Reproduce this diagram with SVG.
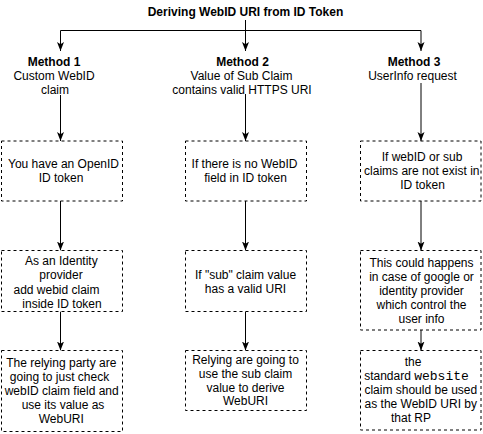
<svg xmlns="http://www.w3.org/2000/svg" width="483" height="434" viewBox="0 0 483 434">
<defs>
<style>
.t{font-family:"Liberation Sans",Arial,Helvetica,sans-serif;font-size:12px;fill:#000;text-anchor:middle}
.b{font-weight:bold}
.box{fill:#fff;stroke:#000;stroke-width:1;stroke-dasharray:3 3}
.e{fill:none;stroke:#000;stroke-width:1}
.mono{font-family:"Liberation Mono","Courier New",monospace;font-size:13px}
</style>
<marker id="arr" markerUnits="userSpaceOnUse" markerWidth="10" markerHeight="8" refX="9" refY="4" orient="auto" viewBox="0 0 10 8">
<path d="M0,0.5 L9,4 L0,7.5 L2.2,4 Z" fill="#000"/>
</marker>
</defs>
<rect width="483" height="434" fill="#fff"/>

<g id="title">
<text class="t b" x="245.5" y="16">Deriving WebID URI from ID Token</text>
</g>

<g id="method1">
<text class="t b" x="54" y="65.7">Method 1</text>
<text class="t" x="54" y="79.7">Custom WebID</text>
<text class="t" x="55" y="93.7">claim</text>
</g>
<g id="method2">
<text class="t b" x="242.5" y="65.7">Method 2</text>
<text class="t" x="241.5" y="79.7">Value of Sub Claim</text>
<text class="t" x="242" y="93.7">contains valid HTTPS URI</text>
</g>
<g id="method3">
<text class="t b" x="414" y="65.7">Method 3</text>
<text class="t" x="412.5" y="79.7">UserInfo request</text>
</g>

<g id="connectors">
<path class="e" d="M245.5,20 V51" marker-end="url(#arr)"/>
<path class="e" d="M245.5,30.5 H60.5 V51" marker-end="url(#arr)"/>
<path class="e" d="M245.5,30.5 H421 V51" marker-end="url(#arr)"/>
<path class="e" d="M60.5,95 V141" marker-end="url(#arr)"/>
<path class="e" d="M245.5,94 V141" marker-end="url(#arr)"/>
<path class="e" d="M421,83 V141" marker-end="url(#arr)"/>
<path class="e" d="M60.5,201 V250.5" marker-end="url(#arr)"/>
<path class="e" d="M245.5,201 V250.5" marker-end="url(#arr)"/>
<path class="e" d="M421,201 V250.5" marker-end="url(#arr)"/>
<path class="e" d="M60.5,311.5 V350.5" marker-end="url(#arr)"/>
<path class="e" d="M245.5,311.5 V350.5" marker-end="url(#arr)"/>
<path class="e" d="M421,330 V350.5" marker-end="url(#arr)"/>
</g>

<g id="m1-openid">
<rect class="box" x="1.5" y="141" width="121" height="60"/>
<text class="t" x="63.5" y="167.5">You have an OpenID</text>
<text class="t" x="61" y="181.5">ID token</text>
</g>
<g id="m1-provider">
<rect class="box" x="1.5" y="250.5" width="121" height="61"/>
<text class="t" x="61.3" y="264.5">As an Identity</text>
<text class="t" x="61" y="279">provider</text>
<text class="t" x="56.5" y="293.5">add webid claim</text>
<text class="t" x="62" y="308">inside ID token</text>
</g>
<g id="m1-relying">
<rect class="box" x="1.5" y="350.5" width="121" height="81"/>
<text class="t" x="61.3" y="366.5">The relying party are</text>
<text class="t" x="59.5" y="380.5">going to just check</text>
<text class="t" x="61.7" y="394.5">webID claim field and</text>
<text class="t" x="63" y="408.5">use its value as</text>
<text class="t" x="61.3" y="422.5">WebURI</text>
</g>

<g id="m2-nowebid">
<rect class="box" x="185.5" y="141" width="121" height="60"/>
<text class="t" x="244.5" y="167.5">If there is no WebID</text>
<text class="t" x="245.5" y="181.5">field in ID token</text>
</g>
<g id="m2-sub">
<rect class="box" x="185.5" y="250.5" width="121" height="61"/>
<text class="t" x="245.5" y="278.5">If "sub" claim value</text>
<text class="t" x="245.5" y="292.5">has a valid URI</text>
</g>
<g id="m2-relying">
<rect class="box" x="185.5" y="350.5" width="121" height="60"/>
<text class="t" x="245.5" y="364">Relying are going to</text>
<text class="t" x="245.5" y="377.8">use the sub claim</text>
<text class="t" x="245.5" y="391.6">value to derive</text>
<text class="t" x="245.5" y="405.4">WebURI</text>
</g>

<g id="m3-noclaims">
<rect class="box" x="360.5" y="141" width="120.5" height="60"/>
<text class="t" x="422" y="161">If webID or sub</text>
<text class="t" x="421.8" y="175">claims are not exist in</text>
<text class="t" x="422.5" y="189">ID token</text>
</g>
<g id="m3-google">
<rect class="box" x="360.5" y="250.5" width="120.5" height="79.5"/>
<text class="t" x="421.5" y="266.5">This could happens</text>
<text class="t" x="421.5" y="280.5">in case of google or</text>
<text class="t" x="421.5" y="294.7">identity provider</text>
<text class="t" x="421.5" y="308.8">which control the</text>
<text class="t" x="421.5" y="322.5">user info</text>
</g>
<g id="m3-website">
<rect class="box" x="360.5" y="350.5" width="120.5" height="79.5"/>
<text class="t" x="413" y="366">the</text>
<text class="t" x="416.5" y="380">standard <tspan class="mono">website</tspan></text>
<text class="t" x="420.8" y="394">claim should be used</text>
<text class="t" x="420.8" y="408">as the WebID URI by</text>
<text class="t" x="411" y="422">that RP</text>
</g>
</svg>
